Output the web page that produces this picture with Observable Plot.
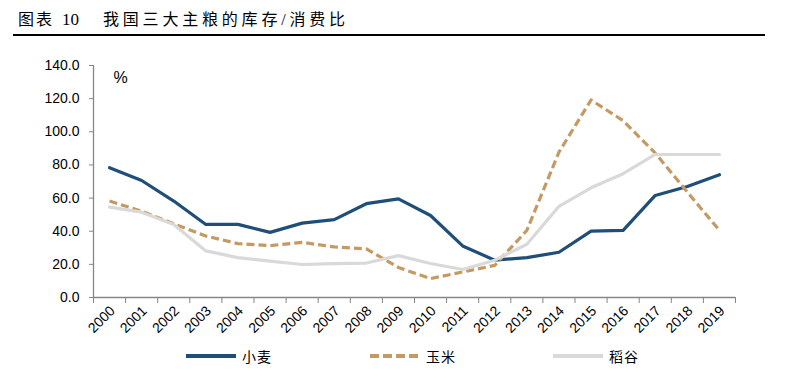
<!DOCTYPE html>
<html><head><meta charset="utf-8">
<script src="https://cdn.jsdelivr.net/npm/d3@7"></script>
<script src="https://cdn.jsdelivr.net/npm/@observablehq/plot@0.6"></script>
<style>
body{margin:0;background:#fff;}
#wrap{position:relative;width:787px;height:375px;overflow:hidden;background:#fff;}
#title{position:absolute;left:18px;top:10px;font-family:"Liberation Serif","Noto Sans CJK SC",serif;font-size:16px;color:#000;white-space:pre;line-height:20px;}
#title .a{letter-spacing:2px;}
#title .n{position:absolute;left:44px;top:0;font-size:17px;}
#title .b{position:absolute;left:85px;top:0;letter-spacing:3.8px;}
#rule{position:absolute;left:13px;top:34px;width:752px;height:2px;background:#000;}
#chart{position:absolute;left:0;top:40px;}
.leg{position:absolute;top:346px;height:20px;display:flex;align-items:center;font-family:"Noto Sans CJK SC",sans-serif;font-size:14px;letter-spacing:1px;color:#000;}
.leg svg{margin-right:6px;}
</style>
</head><body>
<div id="wrap">
  <div id="title"><span class="a">图表</span><span class="n">10</span><span class="b">我国三大主粮的库存/消费比</span></div>
  <div id="rule"></div>
  <div id="chart"></div>
  <div id="legend"></div>
</div>
<script>
const years = [2000,2001,2002,2003,2004,2005,2006,2007,2008,2009,2010,2011,2012,2013,2014,2015,2016,2017,2018,2019];
const wheat = [78.3,70.6,58.2,44.1,44.1,39.3,44.9,47.0,56.6,59.5,49.5,31.1,22.5,24.1,27.3,40.1,40.5,61.6,67.0,74.1];
const corn  = [58.2,52.1,44.5,37.1,32.5,31.3,33.3,30.5,29.3,18.1,11.4,15.4,19.4,40.5,87.7,119.2,106.7,87.1,63.6,40.5];
const rice  = [54.5,51.5,44.1,28.1,24.1,22.0,19.9,20.5,20.8,25.3,20.5,16.9,22.5,32.1,55.0,66.2,74.7,86.3,86.3,86.3];
const yTicks = [0,20,40,60,80,100,120,140];
const seriesNames = ["小麦","玉米","稻谷"];
const seriesColors = ["#1f4e79","#c49a62","#d9d9d9"];
const seriesDash = [null,"8,4",null];

const seriesValues = [wheat, corn, rice];
const rows = seriesNames.flatMap((name,i)=>years.map((yr,j)=>({series:name, year:yr, value:seriesValues[i][j]})));
const bounds = years.map(y=>y-0.5).concat([years[years.length-1]+0.5]);

const axisColor = "#868686";
const marks = [
  Plot.ruleY([0], {stroke: axisColor, strokeWidth: 1.3}),
  Plot.ruleX([bounds[0]], {stroke: axisColor, strokeWidth: 1.3}),
  Plot.axisY({ticks: yTicks, label: null, tickSize: 4, tickPadding: 10, tickFormat: d=>d.toFixed(1), stroke: axisColor, fill: "#000", fontSize: 14}),
  Plot.axisX({ticks: bounds, label: null, tickSize: 6, tickFormat: ()=>"", stroke: axisColor}),
  Plot.text(years, {x: d=>d, frameAnchor: "bottom", rotate: -45, textAnchor: "end", lineAnchor: "middle", dx: 3, dy: 11, fontSize: 14, fill: "#000", text: d=>String(d)}),
  Plot.text(["%"], {frameAnchor: "top-left", dx: 20, dy: 6, lineAnchor: "top", textAnchor: "start", fontSize: 16, fill: "#000"})
];
seriesNames.forEach((name,i)=>{
  marks.push(Plot.line(rows.filter(r=>r.series===name), {x:"year", y:"value", stroke: seriesColors[i], strokeWidth: 3.2, strokeDasharray: seriesDash[i] || undefined, strokeLinejoin:"round", strokeLinecap: seriesDash[i] ? "butt" : "round"}));
});
const chart = Plot.plot({
  width: 787, height: 305,
  marginLeft: 93, marginRight: 52, marginTop: 25, marginBottom: 48,
  x: {type: "linear", domain: [bounds[0], bounds[bounds.length-1]], axis: null},
  y: {domain: [0,140], axis: null},
  style: {fontFamily: "'Liberation Sans', Arial, sans-serif", fontSize: "14px", background: "white", overflow: "visible"},
  marks
});
document.getElementById("chart").appendChild(chart);

const legPos = [186, 370, 553];
const legend = document.getElementById("legend");
seriesNames.forEach((name,i)=>{
  const d = document.createElement("div");
  d.className = "leg";
  d.style.left = legPos[i] + "px";
  d.innerHTML = `<svg width="50" height="6"><line x1="0" x2="50" y1="3" y2="3" stroke="${seriesColors[i]}" stroke-width="4" ${seriesDash[i]?`stroke-dasharray="9,4"`:""} stroke-linecap="${seriesDash[i]?"butt":"round"}"/></svg><span>${name}</span>`;
  legend.appendChild(d);
});
</script>
</body></html>
